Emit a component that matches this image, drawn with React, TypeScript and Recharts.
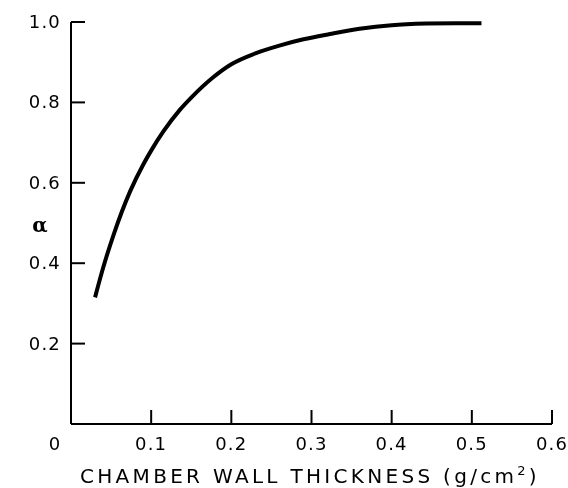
import React from "react";
import { LineChart, Line, XAxis, YAxis } from "recharts";

// wall thickness (g/cm^2) and alpha
const thickness = [0.03, 0.04, 0.053, 0.074, 0.09, 0.1, 0.115, 0.136, 0.15, 0.177, 0.2, 0.23, 0.261, 0.29, 0.323, 0.36, 0.4, 0.444, 0.48, 0.512];
const alpha = [0.315, 0.388, 0.47, 0.58, 0.645, 0.68, 0.727, 0.782, 0.812, 0.862, 0.895, 0.922, 0.942, 0.957, 0.97, 0.983, 0.992, 0.996, 0.997, 0.997];

const xTicks = [0, 0.1, 0.2, 0.3, 0.4, 0.5, 0.6];
const yTicks = [0.2, 0.4, 0.6, 0.8, 1.0];

const data = thickness.map((t, i) => ({ t, a: alpha[i] }));

// chart pinned to the viewport corner so svg coords == page coords, no scrollbars
const W = 568;
const H = 488;
const PLOT_LEFT = 71;
const PLOT_BOTTOM = 424;
const TICK_LEN = 14;
const font = "'DejaVu Sans', sans-serif";

const XTick = ({ x, payload }: any) => {
  const v = payload.value;
  return (
    <g>
      {v !== 0 && (
        <line x1={x} y1={PLOT_BOTTOM} x2={x} y2={PLOT_BOTTOM - TICK_LEN} stroke="#000" strokeWidth={2} />
      )}
      <text
        x={v === 0 ? x - 16 : x}
        y={PLOT_BOTTOM + 26}
        textAnchor="middle"
        fontFamily={font}
        fontSize={18}
        letterSpacing={1.2}
        fill="#000"
      >
        {v === 0 ? "0" : v.toFixed(1)}
      </text>
    </g>
  );
};

const YTick = ({ y, payload }: any) => (
  <g>
    <line x1={PLOT_LEFT} y1={y} x2={PLOT_LEFT + TICK_LEN} y2={y} stroke="#000" strokeWidth={2} />
    <text x={61} y={y + 6} textAnchor="end" fontFamily={font} fontSize={18} letterSpacing={1.2} fill="#000">
      {payload.value.toFixed(1)}
    </text>
  </g>
);

const XTitle = () => (
  <text x={310} y={483} textAnchor="middle" fontFamily={font} fontSize={20} letterSpacing={3.3} fill="#000">
    CHAMBER WALL THICKNESS (g/cm
    <tspan fontSize={13} dy={-8}>2</tspan>
    <tspan dy={8}>)</tspan>
  </text>
);

const YTitle = () => (
  <text x={40} y={232} textAnchor="middle" fontFamily="'DejaVu Serif', serif" fontWeight="bold" fontSize={20} fill="#000">
    α
  </text>
);

export default function App() {
  return (
    <div style={{ position: "fixed", left: 0, top: 0, width: W, height: H }}>
      <LineChart width={W} height={H} data={data} margin={{ top: 22, right: 16, left: 0, bottom: 0 }}>
        <XAxis
          dataKey="t"
          type="number"
          domain={[0, 0.6]}
          ticks={xTicks}
          height={64}
          axisLine={{ stroke: "#000", strokeWidth: 2 }}
          tickLine={false}
          tick={<XTick />}
          interval={0}
          label={{ content: () => <XTitle /> }}
        />
        <YAxis
          type="number"
          domain={[0, 1]}
          ticks={yTicks}
          width={71}
          axisLine={{ stroke: "#000", strokeWidth: 2 }}
          tickLine={false}
          tick={<YTick />}
          interval={0}
          label={{ content: () => <YTitle /> }}
        />
        <Line
          dataKey="a"
          type="monotone"
          stroke="#000"
          strokeWidth={4}
          dot={false}
          isAnimationActive={false}
        />
      </LineChart>
    </div>
  );
}
